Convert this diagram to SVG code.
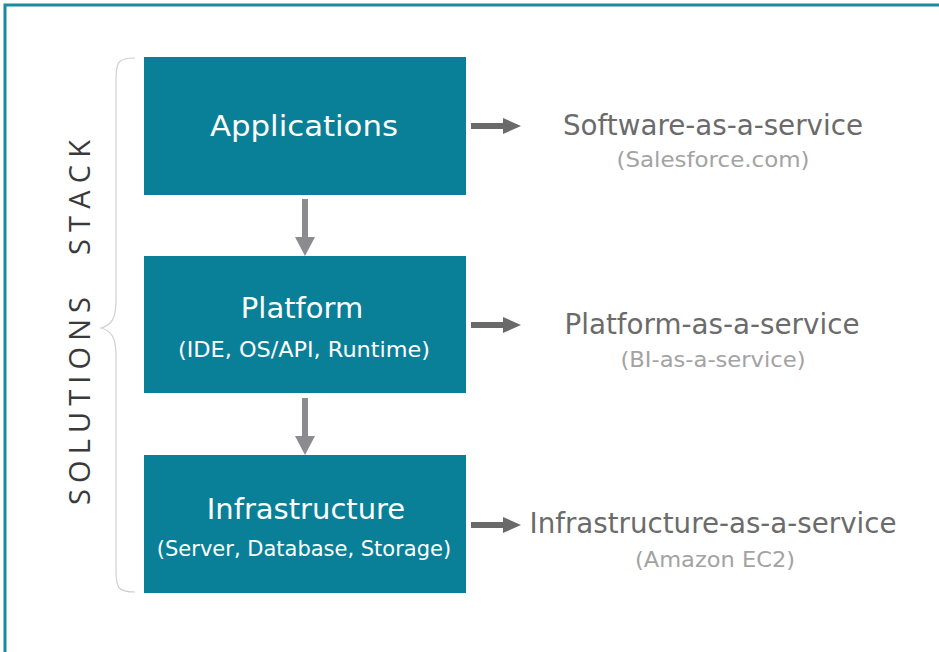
<svg xmlns="http://www.w3.org/2000/svg" width="939" height="652" viewBox="0 0 939 652">
<style>
.box{fill:#0a7f98}
.t{font-family:"DejaVu Sans",Verdana,sans-serif;fill:#fff;text-anchor:middle}
.big{font-size:29px}
.small{font-size:21px}
.svc{font-family:"DejaVu Sans",Verdana,sans-serif;text-anchor:middle;fill:#6b6b6b;font-size:28px}
.ex{font-family:"DejaVu Sans",Verdana,sans-serif;text-anchor:middle;fill:#a3a3a3;font-size:22px}
.side{font-family:"Open Sans","DejaVu Sans",sans-serif;font-size:29px;fill:#3a3a3a}
.down{fill:#8c8c90}
.right{fill:#6a6a6a}
</style>
<rect x="0" y="0" width="939" height="652" fill="#fff"/>
<path d="M5,652 V5 H939" fill="none" stroke="#1a8a9e" stroke-width="3"/>
<path d="M135,58 C118,58 116,62 116,80 V300 C116,318 112,325 101,328 C112,331 116,338 116,356 V570 C116,588 118,592 135,592" fill="none" stroke="#d0d0d0" stroke-width="1.2"/>
<g id="solutions-stack">
<text class="side" transform="translate(90,505) rotate(-90)" textLength="208" lengthAdjust="spacing">SOLUTIONS</text>
<text class="side" transform="translate(90,255) rotate(-90)" textLength="115" lengthAdjust="spacing">STACK</text>
</g>
<g id="applications">
<rect class="box" x="144" y="57" width="322" height="138"/>
<text class="t big" x="304" y="136" textLength="188" lengthAdjust="spacingAndGlyphs">Applications</text>
</g>
<g id="platform">
<rect class="box" x="144" y="256" width="322" height="137"/>
<text class="t big" x="302" y="318">Platform</text>
<text class="t small" x="304" y="357" textLength="252" lengthAdjust="spacingAndGlyphs">(IDE, OS/API, Runtime)</text>
</g>
<g id="infrastructure">
<rect class="box" x="144" y="455" width="322" height="138"/>
<text class="t big" x="306" y="519">Infrastructure</text>
<text class="t small" x="304" y="556">(Server, Database, Storage)</text>
</g>
<g id="saas">
<text class="svc" x="713" y="135" textLength="300" lengthAdjust="spacingAndGlyphs">Software-as-a-service</text>
<text class="ex" x="713" y="167" textLength="193" lengthAdjust="spacingAndGlyphs">(Salesforce.com)</text>
</g>
<g id="paas">
<text class="svc" x="712" y="334" textLength="295" lengthAdjust="spacingAndGlyphs">Platform-as-a-service</text>
<text class="ex" x="713" y="367" textLength="185" lengthAdjust="spacingAndGlyphs">(BI-as-a-service)</text>
</g>
<g id="iaas">
<text class="svc" x="713" y="533" textLength="367" lengthAdjust="spacingAndGlyphs">Infrastructure-as-a-service</text>
<text class="ex" x="715" y="567" textLength="160" lengthAdjust="spacingAndGlyphs">(Amazon EC2)</text>
</g>
<g id="connectors">
<polygon class="down" points="302,199 308,199 308,237 315,237 305,256 295,237 302,237"/>
<polygon class="down" points="302,398 308,398 308,436 315,436 305,455 295,436 302,436"/>
<polygon class="right" points="471,123 503,123 503,118 521,126 503,134 503,129 471,129"/>
<polygon class="right" points="471,322 503,322 503,317 521,325 503,333 503,328 471,328"/>
<polygon class="right" points="471,522 503,522 503,517 521,525 503,533 503,528 471,528"/>
</g>
</svg>
